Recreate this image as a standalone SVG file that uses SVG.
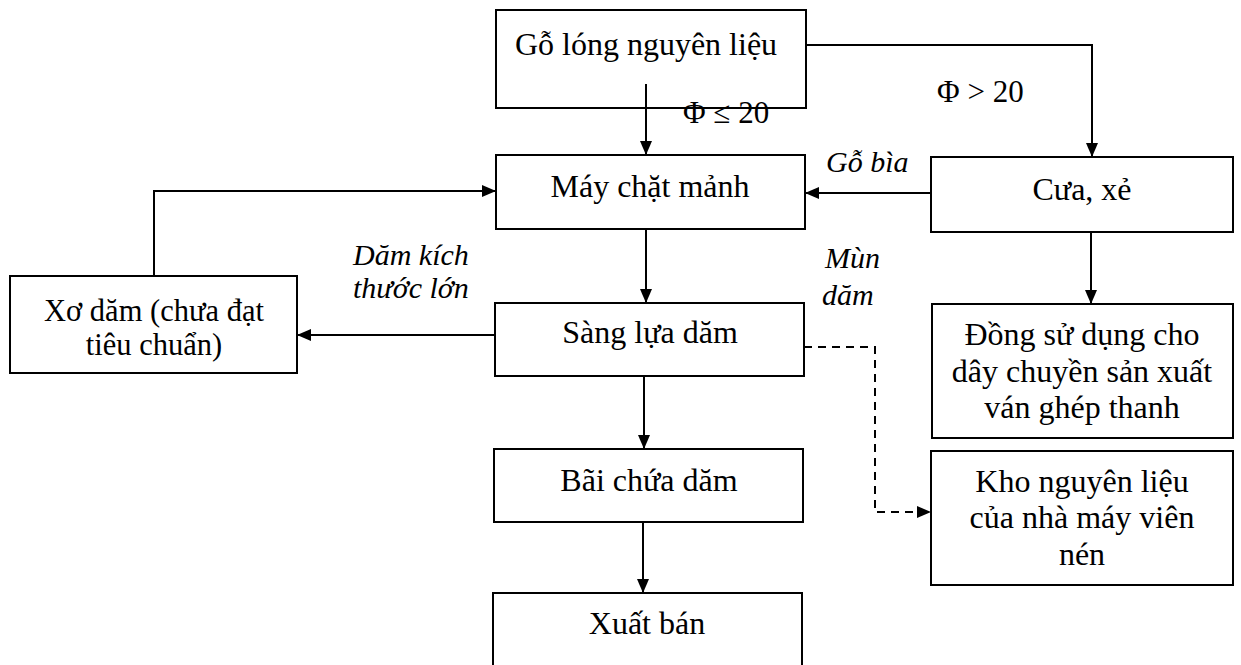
<svg xmlns="http://www.w3.org/2000/svg" width="1241" height="665" viewBox="0 0 1241 665">
<style>
.box{fill:#fff;stroke:#000;stroke-width:2}
.t{font-family:"Liberation Serif","Times New Roman",serif;font-size:32px;fill:#000;text-anchor:middle}
.t2{font-size:30.5px}
.lbl{font-family:"Liberation Serif","Times New Roman",serif;font-size:31px;fill:#000}
.it{font-family:"Liberation Serif","Times New Roman",serif;font-size:30px;font-style:italic;fill:#000}
.ln{fill:none;stroke:#000;stroke-width:2}
.dash{fill:none;stroke:#000;stroke-width:2;stroke-dasharray:8 6}
</style>
<defs>
<marker id="ah" viewBox="0 0 14 12" refX="14" refY="6" markerWidth="14" markerHeight="12" markerUnits="userSpaceOnUse" orient="auto">
<path d="M0,0 L14,6 L0,12 Z" fill="#000"/>
</marker>
</defs>
<rect width="1241" height="665" fill="#fff"/>
<g id="n1"><rect class="box" x="496" y="10" width="310" height="98"/><text class="t" x="646" y="55">Gỗ lóng nguyên liệu</text></g>
<g id="n2"><rect class="box" x="496" y="155" width="309" height="74"/><text class="t" x="650" y="197">Máy chặt mảnh</text></g>
<g id="n3"><rect class="box" x="931" y="157" width="302" height="75"/><text class="t" x="1082" y="200">Cưa, xẻ</text></g>
<g id="n4"><rect class="box" x="10" y="276" width="287" height="97"/><text class="t t2" x="154" y="321">Xơ dăm (chưa đạt</text><text class="t t2" x="154" y="355">tiêu chuẩn)</text></g>
<g id="n5"><rect class="box" x="495" y="303" width="309" height="73"/><text class="t" x="650" y="343">Sàng lựa dăm</text></g>
<g id="n6"><rect class="box" x="932" y="304" width="301" height="134"/><text class="t" x="1082" y="345">Đồng sử dụng cho</text><text class="t" x="1082" y="382">dây chuyền sản xuất</text><text class="t" x="1082" y="418">ván ghép thanh</text></g>
<g id="n7"><rect class="box" x="494" y="449" width="309" height="73"/><text class="t" x="649" y="491">Bãi chứa dăm</text></g>
<g id="n8"><rect class="box" x="931" y="451" width="302" height="134"/><text class="t" x="1082" y="492">Kho nguyên liệu</text><text class="t" x="1082" y="528">của nhà máy viên</text><text class="t" x="1082" y="565">nén</text></g>
<g id="n9"><rect class="box" x="493" y="593" width="309" height="90"/><text class="t" x="647" y="634">Xuất bán</text></g>
<g id="connectors">
<path class="ln" d="M646,84 V155" marker-end="url(#ah)"/>
<path class="ln" d="M806,45 H1092 V157" marker-end="url(#ah)"/>
<path class="ln" d="M931,193 H805" marker-end="url(#ah)"/>
<path class="ln" d="M1091,232 V304" marker-end="url(#ah)"/>
<path class="ln" d="M646,229 V303" marker-end="url(#ah)"/>
<path class="ln" d="M495,335 H297" marker-end="url(#ah)"/>
<path class="ln" d="M154,276 V191 H496" marker-end="url(#ah)"/>
<path class="ln" d="M644,376 V449" marker-end="url(#ah)"/>
<path class="ln" d="M643,522 V593" marker-end="url(#ah)"/>
<path class="dash" d="M804,347 H875 V512 H931" marker-end="url(#ah)"/>
</g>
<g id="labels">
<text class="lbl" x="683" y="123">Φ ≤ 20</text>
<text class="lbl" x="937" y="102">Φ &gt; 20</text>
<text class="it" x="826" y="172">Gỗ bìa</text>
<text class="it" x="353" y="265">Dăm kích</text>
<text class="it" x="353" y="298">thước lớn</text>
<text class="it" x="825" y="268">Mùn</text>
<text class="it" x="822" y="305">dăm</text>
</g>
</svg>
